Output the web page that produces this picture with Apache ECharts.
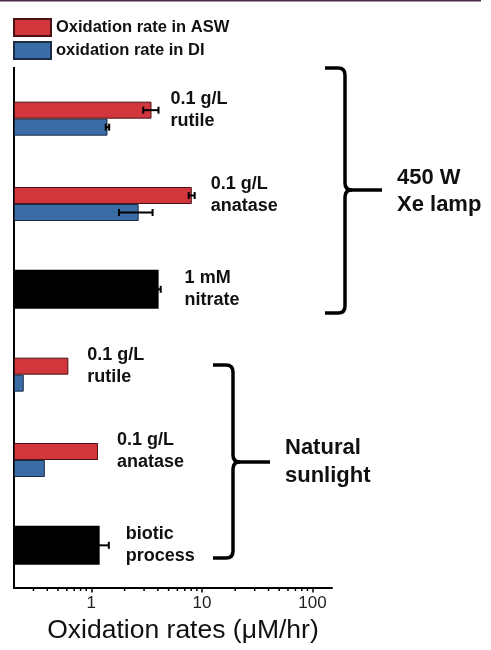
<!DOCTYPE html>
<html>
<head>
<meta charset="utf-8">
<style>html,body{margin:0;padding:0;background:#fff;}#c{width:491px;height:650px;}</style>
<script src="https://cdn.jsdelivr.net/npm/echarts@6/dist/echarts.min.js"></script>
</head>
<body>
<div id="c"></div>
<script>
// ---- data ----
const categories = ['rutile450', 'anatase450', 'nitrate450', 'rutileSun', 'anataseSun', 'bioticSun'];
const groupLabels = ['0.1 g/L\nrutile', '0.1 g/L\nanatase', '1 mM\nnitrate', '0.1 g/L\nrutile', '0.1 g/L\nanatase', 'biotic\nprocess'];
const rateASW = [3.5, 8.1, null, 0.62, 1.15, null];
const errASW  = [0.55, 0.5, null, null, null, null];
const rateDI  = [1.4, 2.68, null, 0.245, 0.38, null];
const errDI   = [0.05, 0.9, null, null, null, null];
const rateOther = [null, null, 4.06, null, null, 1.19];
const errOther  = [null, null, 0.18, null, null, 0.25];
const majorTicks = [1, 10, 100];
const minorTicks = [0.3,0.4,0.5,0.6,0.7,0.8,0.9,2,3,4,5,6,7,8,9,20,30,40,50,60,70,80,90];
const seriesNames = ['Oxidation rate in ASW', 'oxidation rate in DI'];

// ---- chart ----
const chart = echarts.init(document.getElementById('c'), null, {renderer: 'canvas'});
const FONT = 'Arial, "Liberation Sans", Helvetica, sans-serif';

function toBar(arr) { return arr.map(v => v == null ? '-' : v); }
function toErr(vals, errs) {
  const out = [];
  vals.forEach((v, i) => { if (v != null && errs[i] != null) out.push([v, i, errs[i]]); });
  return out;
}
function errRender(offset) {
  return function (params, api) {
    const v = api.value(0), c = api.value(1), e = api.value(2);
    const p0 = api.coord([v - e, c]);
    const p1 = api.coord([v + e, c]);
    const y = p0[1] + offset;
    const h = 3.5;
    const st = {stroke: '#000', lineWidth: 2};
    return {type: 'group', children: [
      {type: 'line', shape: {x1: p0[0], y1: y, x2: p1[0], y2: y}, style: st},
      {type: 'line', shape: {x1: p0[0], y1: y - h, x2: p0[0], y2: y + h}, style: st},
      {type: 'line', shape: {x1: p1[0], y1: y - h, x2: p1[0], y2: y + h}, style: st}
    ]};
  };
}
// curly bracket annotation built from lines and quadratic curves
function bracket(xl, xv, xt, yTop, yMid, yBot) {
  const st = {stroke: '#000', lineWidth: 3.5, fill: null};
  const r = 7;
  const L = (x1, y1, x2, y2) => ({type: 'line', shape: {x1, y1, x2, y2}, style: st});
  const Q = (x1, y1, cx, cy, x2, y2) => ({type: 'bezierCurve', shape: {x1, y1, cpx1: cx, cpy1: cy, x2, y2}, style: st});
  return {type: 'group', children: [
    L(xl, yTop, xv - r, yTop), Q(xv - r, yTop, xv, yTop, xv, yTop + r),
    L(xv, yTop + r, xv, yMid - r), Q(xv, yMid - r, xv, yMid, xv + r, yMid),
    L(xv + r, yMid, xt, yMid), Q(xv + r, yMid, xv, yMid, xv, yMid + r),
    L(xv, yMid + r, xv, yBot - r), Q(xv, yBot - r, xv, yBot, xv - r, yBot),
    L(xv - r, yBot, xl, yBot)
  ]};
}

const barW = 17;
const labelStyle = {fontFamily: FONT, fontWeight: 'bold', fontSize: 18, lineHeight: 22, color: '#111'};
const option = {
  animation: false,
  backgroundColor: '#fff',
  grid: {left: 14, right: 159, top: 76, bottom: 62, containLabel: false},
  legend: {
    orient: 'vertical', left: 13, top: 18, padding: 0, itemWidth: 37, itemHeight: 17, itemGap: 4,
    data: seriesNames, icon: 'rect',
    textStyle: {fontFamily: FONT, fontWeight: 'bold', fontSize: 16.5, color: '#111'}
  },
  xAxis: {
    type: 'log', logBase: 10, min: 0.2, max: 150, startValue: 0.2,
    axisLine: {show: true, lineStyle: {color: '#000', width: 2}},
    axisTick: {show: true, length: 4.5, lineStyle: {color: '#000', width: 1.5}, customValues: majorTicks},
    axisLabel: {
      customValues: majorTicks, margin: 7, fontFamily: FONT, fontSize: 17, color: '#222',
      formatter: v => (majorTicks.indexOf(Math.round(v * 1000) / 1000) >= 0 ? String(Math.round(v)) : '')
    },
    splitLine: {show: false}, minorTick: {show: false},
    name: 'Oxidation rates (\u03bcM/hr)', nameLocation: 'middle', nameGap: 27,
    nameTextStyle: {fontFamily: FONT, fontSize: 26.5, color: '#111', padding: [0, 0, 0, 20]}
  },
  yAxis: [
    {type: 'category', data: categories, inverse: true,
     axisLine: {show: true, lineStyle: {color: '#000', width: 2}},
     axisTick: {show: false}, axisLabel: {show: false}, splitLine: {show: false}},
    {type: 'category', data: categories, inverse: true, show: false}
  ],
  series: [
    {name: seriesNames[0], type: 'bar', yAxisIndex: 0, data: toBar(rateASW), barWidth: barW, barGap: '0%',
     itemStyle: {color: '#d0363b', borderColor: '#4a1214', borderWidth: 1},
     label: Object.assign({show: true, position: 'right', distance: 19,
             formatter: p => groupLabels[p.dataIndex]}, labelStyle)},
    {name: seriesNames[1], type: 'bar', yAxisIndex: 0, data: toBar(rateDI), barWidth: barW, barGap: '0%',
     itemStyle: {color: '#3a6ca6', borderColor: '#1c2c44', borderWidth: 1}},
    {name: 'other', type: 'bar', yAxisIndex: 1, data: toBar(rateOther), barWidth: 39,
     itemStyle: {color: '#000'},
     label: Object.assign({show: true, position: 'right', distance: 26,
             formatter: p => groupLabels[p.dataIndex]}, labelStyle)},
    {name: 'errASW', type: 'custom', yAxisIndex: 0, renderItem: errRender(-barW / 2), data: toErr(rateASW, errASW),
     encode: {x: 0, y: 1}, z: 5},
    {name: 'errDI', type: 'custom', yAxisIndex: 0, renderItem: errRender(barW / 2), data: toErr(rateDI, errDI),
     encode: {x: 0, y: 1}, z: 5},
    {name: 'errOther', type: 'custom', yAxisIndex: 1, renderItem: errRender(0), data: toErr(rateOther, errOther),
     encode: {x: 0, y: 1}, z: 5},
    {name: 'minorTicks', type: 'custom', yAxisIndex: 0, clip: false, silent: true,
     data: minorTicks.map(v => [v, 0]), encode: {x: 0, y: 1},
     renderItem: function (params, api) {
       const p = api.coord([api.value(0), 0]);
       const yb = params.coordSys.y + params.coordSys.height;
       return {type: 'line', shape: {x1: p[0], y1: yb, x2: p[0], y2: yb + 3},
               style: {stroke: '#000', lineWidth: 1.5}};
     }}
  ],
  graphic: [
    {type: 'rect', shape: {x: 0, y: 0, width: 481, height: 1.5}, style: {fill: '#4b2b47'}},
    {type: 'line', shape: {x1: 14, y1: 67, x2: 14, y2: 77}, style: {stroke: '#000', lineWidth: 2}},
    bracket(325, 345, 382, 68, 190, 313),
    bracket(213, 233, 270, 365, 462, 558),
    {type: 'text', style: {x: 397, y: 164.5, text: '450 W\nXe lamp', font: 'bold 22px ' + FONT, lineHeight: 27,
     fill: '#111', verticalAlign: 'top', align: 'left'}},
    {type: 'text', style: {x: 285, y: 434, text: 'Natural\nsunlight', font: 'bold 22px ' + FONT, lineHeight: 28,
     fill: '#111', verticalAlign: 'top', align: 'left'}}
  ]
};
chart.setOption(option);
</script>
</body>
</html>
